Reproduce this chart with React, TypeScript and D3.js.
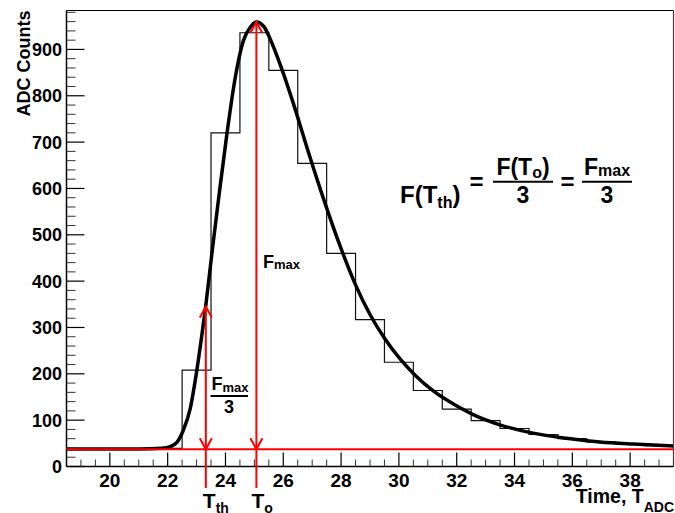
import React from "react";
import * as d3 from "d3";

// ---- data ----
const binCenters = [19, 20, 21, 22, 23, 24, 25, 26, 27, 28, 29, 30, 31, 32, 33, 34, 35, 36, 37, 38, 39];
const binCounts = [38, 38, 38, 39, 208, 720, 936, 855, 654, 460, 317, 225, 164, 124, 99, 82, 69, 60, 53, 48, 45];

const fitTimes = [18.5, 21.0, 21.8, 22.09, 22.32, 22.52, 22.78, 23.01, 23.19, 23.32, 23.53, 23.75, 24.05, 24.34, 24.62, 24.86, 25.07, 25.32, 25.55, 25.9, 26.35, 26.81, 27.39, 28.0, 28.5, 29.0, 29.52, 30.04, 30.56, 31.19, 31.99, 32.57, 33.49, 34.64, 35.79, 36.95, 38.1, 39.5];
const fitValues = [38, 38, 39.5, 43, 52, 75, 125, 208, 287, 348, 460, 572, 718, 840, 919, 948, 959, 950, 922, 866, 783, 690, 578, 470, 392, 328, 275, 232, 197, 163, 131, 112, 90, 72, 61, 53, 48.5, 44.5];

const xTickLabels = [20, 22, 24, 26, 28, 30, 32, 34, 36, 38];
const yTickLabels = [0, 100, 200, 300, 400, 500, 600, 700, 800, 900];

const baselineLevel = 37;
const peakTime = 25.07;
const peakValue = 959;
const thresholdTime = 23.32;
const thresholdValue = 345;

const X_DOMAIN = [18.5, 39.5];
const Y_DOMAIN = [0, 984];

const FONT = "'Liberation Sans', Arial, Helvetica, sans-serif";

export default function App() {
  const W = 675;
  const H = 513;
  const left = 66.5, right = 673.5, top = 10.5, bottom = 466.5;
  const x = d3.scaleLinear().domain(X_DOMAIN).range([left, right]);
  const y = d3.scaleLinear().domain(Y_DOMAIN).range([bottom, top]);

  // histogram outline as step line
  const stepPts: [number, number][] = binCenters.map((c, i) => [c - 0.5, binCounts[i]]);
  stepPts.push([binCenters[binCenters.length - 1] + 0.5, binCounts[binCounts.length - 1]]);
  const histLine = d3
    .line<[number, number]>()
    .x((d) => x(d[0]))
    .y((d) => y(d[1]))
    .curve(d3.curveStepAfter);

  const fitLine = d3
    .line<number>()
    .x((_, i) => x(fitTimes[i]))
    .y((d) => y(d))
    .curve(d3.curveMonotoneX);

  // ticks
  const xMinor = d3.range(19, 39.51, 0.5).filter((v) => Math.abs(v / 2 - Math.round(v / 2)) > 1e-6);
  const yMinor = d3.range(20, 981, 20).filter((v) => v % 100 !== 0);

  const red = "#ff0000";
  const yBase = y(baselineLevel);
  const lineBottom = bottom + 21.5;

  const arrowUp = (px: number, py: number) =>
    `M${px - 6},${py + 11}L${px},${py}L${px + 6},${py + 11}`;
  const arrowDown = (px: number, py: number) =>
    `M${px - 6},${py - 11}L${px},${py}L${px + 6},${py - 11}`;

  const xT = x(thresholdTime);
  const xP = x(peakTime);

  return (
    <svg
      width={W}
      height={H}
      style={{ position: "absolute", left: 0, top: 0, background: "#fff" }}
      fontFamily={FONT}
      fontWeight="bold"
    >
      <rect x={0} y={0} width={W} height={H} fill="#fff" />
      {/* histogram */}
      <path d={histLine(stepPts) || ""} fill="none" stroke="#111" strokeWidth={1.2} />
      {/* fit curve */}
      <path d={fitLine(fitValues) || ""} fill="none" stroke="#000" strokeWidth={3.5} strokeLinejoin="round" />

      {/* frame */}
      <line x1={left} x2={right} y1={top} y2={top} stroke="#000" strokeWidth={1.2} />
      <line x1={right} x2={right} y1={top} y2={bottom} stroke="#663333" strokeWidth={1.2} />
      <line x1={left} x2={left} y1={top} y2={bottom} stroke="#000" strokeWidth={1.5} />
      <line x1={left} x2={right} y1={bottom} y2={bottom} stroke="#000" strokeWidth={1.5} />

      {/* y ticks */}
      {yTickLabels.map((v) => (
        <g key={"yt" + v}>
          <line x1={left} x2={left + 18} y1={y(v)} y2={y(v)} stroke="#000" strokeWidth={1.2} />
          <text x={62} y={y(v) + 6.5} fontSize={18} textAnchor="end" fill="#000">
            {v}
          </text>
        </g>
      ))}
      {yMinor.map((v) => (
        <line key={"ym" + v} x1={left} x2={left + 9} y1={y(v)} y2={y(v)} stroke="#333" strokeWidth={1} />
      ))}

      {/* x ticks */}
      {xTickLabels.map((v) => (
        <g key={"xt" + v}>
          <line x1={x(v)} x2={x(v)} y1={bottom} y2={bottom - 14} stroke="#000" strokeWidth={1.2} />
          <text x={x(v)} y={487} fontSize={19} textAnchor="middle" fill="#000">
            {v}
          </text>
        </g>
      ))}
      {xMinor.map((v) => (
        <line key={"xm" + v} x1={x(v)} x2={x(v)} y1={bottom} y2={bottom - 7} stroke="#333" strokeWidth={1} />
      ))}

      {/* axis titles */}
      <text
        transform={`translate(30,${top}) rotate(-90)`}
        fontSize={18}
        textAnchor="end"
        fill="#000"
      >
        ADC Counts
      </text>
      <text x={674} y={503} textAnchor="end" fontSize={19.5} fill="#000">
        Time, T
        <tspan fontSize={14} dy={8.5}>
          ADC
        </tspan>
      </text>

      {/* red annotation lines */}
      <line x1={left} x2={right} y1={yBase} y2={yBase} stroke={red} strokeWidth={2} />
      <line x1={xT} x2={xT} y1={y(thresholdValue)} y2={lineBottom} stroke={red} strokeWidth={2} />
      <line x1={xP} x2={xP} y1={y(peakValue)} y2={lineBottom} stroke={red} strokeWidth={2} />
      <path d={arrowUp(xT, y(thresholdValue))} fill="none" stroke={red} strokeWidth={2} />
      <path d={arrowDown(xT, yBase)} fill="none" stroke={red} strokeWidth={2} />
      <path d={arrowUp(xP, y(peakValue))} fill="none" stroke={red} strokeWidth={2} />
      <path d={arrowDown(xP, yBase)} fill="none" stroke={red} strokeWidth={2} />

      {/* T labels under axis */}
      <text x={xT - 3} y={508} fontSize={21} fill="#000">
        T
        <tspan fontSize={14} dy={5}>
          th
        </tspan>
      </text>
      <text x={xP - 5} y={508} fontSize={21} fill="#000">
        T
        <tspan fontSize={14} dy={5}>
          o
        </tspan>
      </text>

      {/* F_max label */}
      <text x={263} y={268} fontSize={18} fill="#000">
        F
        <tspan fontSize={13} dy={1}>
          max
        </tspan>
      </text>

      {/* F_max / 3 */}
      <text x={211.5} y={390} fontSize={18} fill="#000">
        F
        <tspan fontSize={13} dy={2}>
          max
        </tspan>
      </text>
      <line x1={210.5} x2={248} y1={396} y2={396} stroke="#000" strokeWidth={2} />
      <text x={229} y={413} fontSize={18} textAnchor="middle" fill="#000">
        3
      </text>

      {/* formula */}
      <g fill="#000">
        <text x={400} y={203} fontSize={24}>
          F(T
          <tspan fontSize={16} dy={5}>
            th
          </tspan>
          <tspan fontSize={24} dy={-5}>
            )
          </tspan>
        </text>
        <text x={476.5} y={190} fontSize={24} textAnchor="middle">
          =
        </text>
        <text x={523} y={175} fontSize={23} textAnchor="middle">
          F(T
          <tspan fontSize={16} dy={3}>
            o
          </tspan>
          <tspan fontSize={23} dy={-3}>
            )
          </tspan>
        </text>
        <line x1={493} x2={553} y1={181.7} y2={181.7} stroke="#000" strokeWidth={2} />
        <text x={523} y={203} fontSize={23} textAnchor="middle">
          3
        </text>
        <text x={567.5} y={190} fontSize={24} textAnchor="middle">
          =
        </text>
        <text x={607} y={175} fontSize={23} textAnchor="middle">
          F
          <tspan fontSize={16} dy={1}>
            max
          </tspan>
        </text>
        <line x1={582} x2={632} y1={181.7} y2={181.7} stroke="#000" strokeWidth={2} />
        <text x={607} y={203} fontSize={23} textAnchor="middle">
          3
        </text>
      </g>
    </svg>
  );
}
